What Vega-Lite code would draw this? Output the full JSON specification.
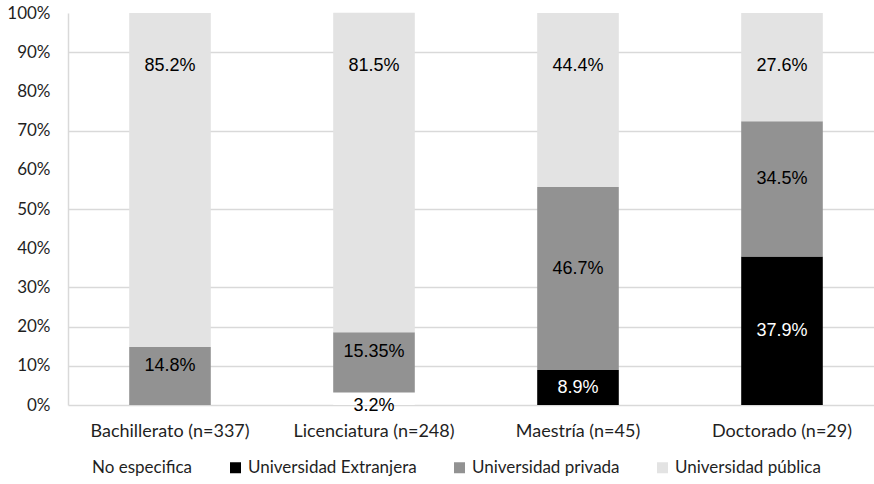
{
  "$schema": "https://vega.github.io/schema/vega-lite/v6.json",
  "width": 816,
  "height": 392,
  "autosize": "none",
  "padding": {"left": 68, "top": 13, "right": 0, "bottom": 79},
  "background": "white",
  "config": {
    "view": {"stroke": null},
    "font": "Lato",
    "axisY": {
      "title": null,
      "format": ".0%",
      "labelOverlap": false,
      "ticks": false,
      "labelFont": "Lato",
      "labelFontSize": 17,
      "labelColor": "#1f1f1f",
      "labelPadding": 18,
      "domainColor": "#d9d9d9",
      "domainWidth": 1.5,
      "gridColor": "#d9d9d9",
      "gridWidth": 1.5
    }
  },
  "data": {
    "values": [
      {"nivel": "Bachillerato (n=337)", "fuente": "Universidad privada", "pct": 0.148},
      {"nivel": "Bachillerato (n=337)", "fuente": "Universidad pública", "pct": 0.852},
      {"nivel": "Licenciatura (n=248)", "fuente": "No especifica", "pct": 0.032},
      {"nivel": "Licenciatura (n=248)", "fuente": "Universidad privada", "pct": 0.1535},
      {"nivel": "Licenciatura (n=248)", "fuente": "Universidad pública", "pct": 0.815},
      {"nivel": "Maestría (n=45)", "fuente": "Universidad Extranjera", "pct": 0.089},
      {"nivel": "Maestría (n=45)", "fuente": "Universidad privada", "pct": 0.467},
      {"nivel": "Maestría (n=45)", "fuente": "Universidad pública", "pct": 0.444},
      {"nivel": "Doctorado (n=29)", "fuente": "Universidad Extranjera", "pct": 0.379},
      {"nivel": "Doctorado (n=29)", "fuente": "Universidad privada", "pct": 0.345},
      {"nivel": "Doctorado (n=29)", "fuente": "Universidad pública", "pct": 0.276}
    ]
  },
  "encoding": {
    "x": {
      "field": "nivel",
      "type": "nominal",
      "sort": ["Bachillerato (n=337)", "Licenciatura (n=248)", "Maestría (n=45)", "Doctorado (n=29)"],
      "scale": {"paddingInner": 0.6, "paddingOuter": 0.3},
      "axis": {
        "title": null,
        "labelAngle": 0,
        "ticks": false,
        "domain": false,
        "labelFont": "Lato",
        "labelFontSize": 18,
        "labelColor": "#1f1f1f",
        "labelPadding": 17,
        "labelLimit": 300
      }
    }
  },
  "layer": [
    {
      "mark": {"type": "bar"},
      "encoding": {
        "y": {
          "field": "pct",
          "type": "quantitative",
          "stack": "zero",
          "scale": {"domain": [0, 1], "nice": false},
          "axis": {
            "values": [0, 0.1, 0.2, 0.3, 0.4, 0.5, 0.6, 0.7, 0.8, 0.9, 1],
            "gridOpacity": {
              "condition": {"test": "datum.value == 0.4 || datum.value == 0.6 || datum.value == 0.8 || datum.value == 1", "value": 0},
              "value": 1
            }
          }
        },
        "color": {
          "field": "fuente",
          "type": "nominal",
          "scale": {
            "domain": ["No especifica", "Universidad Extranjera", "Universidad privada", "Universidad pública"],
            "range": ["#ffffff", "#000000", "#929292", "#e3e3e3"]
          },
          "legend": {
            "title": null,
            "orient": "none",
            "direction": "horizontal",
            "legendX": 3,
            "legendY": 446,
            "symbolType": "square",
            "symbolSize": 121,
            "symbolStrokeWidth": 0,
            "labelFont": "Lato",
            "labelFontSize": 17,
            "labelColor": "#1f1f1f",
            "labelOffset": 4,
            "labelLimit": 300,
            "columnPadding": 34
          }
        },
        "order": {"field": "fuente", "sort": "ascending"}
      }
    },
    {
      "transform": [{"filter": "datum.fuente == 'Universidad Extranjera'"}],
      "mark": {"type": "text", "font": "Liberation Sans", "fontSize": 18, "baseline": "middle", "color": "#ffffff"},
      "encoding": {
        "y": {
          "field": "pct",
          "type": "quantitative",
          "stack": "zero",
          "bandPosition": 0.5,
          "axis": {
            "values": [0, 0.1, 0.2, 0.3, 0.4, 0.5, 0.6, 0.7, 0.8, 0.9, 1],
            "gridOpacity": {
              "condition": {"test": "datum.value == 0.4 || datum.value == 0.6 || datum.value == 0.8 || datum.value == 1", "value": 0},
              "value": 1
            }
          }
        },
        "text": {"field": "pct", "type": "quantitative", "format": ".2~%"}
      }
    },
    {
      "transform": [{"filter": "datum.fuente != 'Universidad pública'"}],
      "mark": {"type": "text", "font": "Liberation Sans", "fontSize": 18, "baseline": "middle", "dy": -10, "color": "#000000"},
      "encoding": {
        "y": {
          "field": "pct",
          "type": "quantitative",
          "stack": "zero",
          "bandPosition": 0.5,
          "axis": {
            "values": [0, 0.1, 0.2, 0.3, 0.4, 0.5, 0.6, 0.7, 0.8, 0.9, 1],
            "gridOpacity": {
              "condition": {"test": "datum.value == 0.4 || datum.value == 0.6 || datum.value == 0.8 || datum.value == 1", "value": 0},
              "value": 1
            }
          }
        },
        "detail": {"field": "fuente"},
        "order": {"field": "fuente", "sort": "ascending"},
        "text": {
          "condition": {"test": "datum.fuente == 'Universidad privada'", "field": "pct", "type": "quantitative", "format": ".2~%"},
          "value": ""
        }
      }
    },
    {
      "transform": [{"filter": "datum.fuente == 'Universidad pública'"}],
      "mark": {"type": "text", "font": "Liberation Sans", "fontSize": 18, "baseline": "middle", "dy": 53, "color": "#000000"},
      "encoding": {
        "y": {
          "datum": 1,
          "type": "quantitative",
          "axis": {
            "values": [0, 0.1, 0.2, 0.3, 0.4, 0.5, 0.6, 0.7, 0.8, 0.9, 1],
            "gridOpacity": {
              "condition": {"test": "datum.value == 0.4 || datum.value == 0.6 || datum.value == 0.8 || datum.value == 1", "value": 0},
              "value": 1
            }
          }
        },
        "text": {"field": "pct", "type": "quantitative", "format": ".2~%"}
      }
    },
    {
      "transform": [{"filter": "datum.fuente == 'No especifica'"}],
      "mark": {"type": "text", "font": "Liberation Sans", "fontSize": 18, "baseline": "middle", "dy": 1, "color": "#000000"},
      "encoding": {
        "y": {
          "datum": 0,
          "type": "quantitative",
          "axis": {
            "values": [0, 0.1, 0.2, 0.3, 0.4, 0.5, 0.6, 0.7, 0.8, 0.9, 1],
            "gridOpacity": {
              "condition": {"test": "datum.value == 0.4 || datum.value == 0.6 || datum.value == 0.8 || datum.value == 1", "value": 0},
              "value": 1
            }
          }
        },
        "text": {"field": "pct", "type": "quantitative", "format": ".2~%"}
      }
    }
  ]
}
